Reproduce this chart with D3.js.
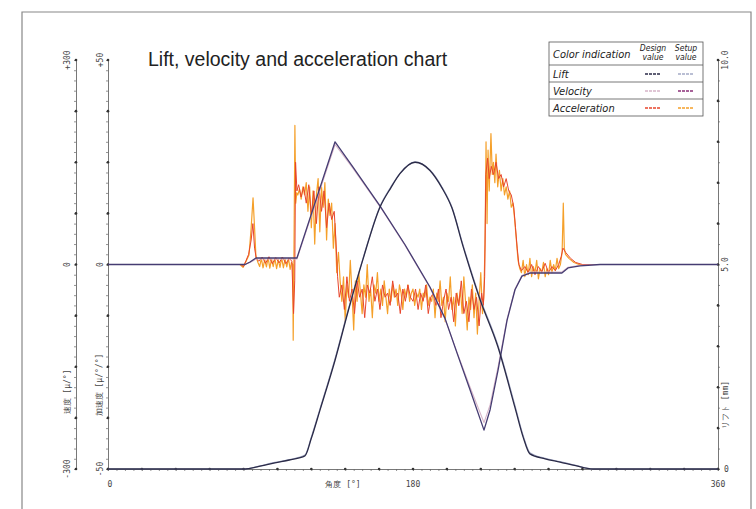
<!DOCTYPE html>
<html>
<head>
<meta charset="utf-8">
<script src="https://cdn.jsdelivr.net/npm/d3@7"></script>
<style>
  body { margin: 0; background: #fff; }
  svg { display: block; }
  .tick-label { font-family: "DejaVu Sans Mono", monospace; font-size: 8px; fill: #444; }
  .legend-text { font-family: "Liberation Sans Narrow", "DejaVu Sans Condensed", "Roboto", sans-serif; font-style: italic; font-stretch: condensed; fill: #222; }
</style>
</head>
<body>
<svg id="chart" width="756" height="509"></svg>
<script>
// ---- data (angle in degrees) ----
const liftAngle = [0, 81, 88, 98.5, 107, 116.2, 120, 125.1, 134, 142, 150.5, 160.5, 167, 172.3, 181.2, 190, 197, 203, 209.5, 219.5, 230, 240.2, 245, 249, 258, 266.8, 276, 286.2, 360];
const liftDesign = [0, 0, 0.05, 0.15, 0.22, 0.32, 0.75, 1.44, 2.66, 3.9, 5.13, 6.4, 6.88, 7.22, 7.5, 7.3, 6.88, 6.38, 5.45, 4.15, 3.0, 1.5, 0.78, 0.37, 0.25, 0.17, 0.08, 0, 0];
const liftSetup = [0, 0, 0.06, 0.16, 0.23, 0.34, 0.78, 1.47, 2.7, 3.93, 5.15, 6.42, 6.9, 7.23, 7.51, 7.31, 6.9, 6.4, 5.48, 4.19, 3.04, 1.55, 0.82, 0.4, 0.26, 0.18, 0.09, 0, 0];

const velAngle = [0, 80.9, 83.8, 87.3, 111.5, 134, 144.6, 160.5, 175.3, 190, 198.9, 206, 213.7, 221.9, 225.5, 230.2, 235.5, 240.2, 244.3, 249, 267.9, 271.5, 278.6, 290.4, 360];
const velDesign = [0, 0, 3, 8, 8, 176, 141, 85, 28, -34, -80, -129, -180, -232, -206, -150, -80, -36, -16, -11, -11, -4, -1, 0, 0];
const velSetup = [0, 0, 3.7, 9.5, 9.5, 180, 143, 86, 29, -33, -79, -130, -184, -243, -213, -155, -82, -37, -17, -12.5, -12.5, -5, -2, 0, 0];

const accelSetup = [
  [0, 0], [77.9, 0], [79.7, -0.7], [81.4, 0.7], [83.2, 2.3], [84.4, 8.4], [85.6, 16.3], [86.5, 9], [87.3, 2], [88.5, 0.5],
  [89.5, -0.5], [90.5, 1.5], [91.5, -0.8], [92.5, 1.2], [93.5, -0.6], [94.5, 1.6], [95.5, -0.9], [96.5, 1.3], [97.5, -0.5], [98.5, 1.5],
  [99.5, -1], [100.5, 1.2], [101.5, -0.7], [102.5, 1.6], [103.5, -0.8], [104.5, 1.4], [105.5, -0.6], [106.5, 1.5], [107.5, -1.2], [108.3, 0.5],
  [109, 0], [109.3, -18.5], [109.7, 0], [110.3, 34], [110.8, 15], [111.4, 17.5],
  [112, 17], [113, 18.5], [114, 16], [115, 19], [116, 17], [117, 20], [118, 13], [119, 19], [120, 9], [121, 18], [122, 5], [123, 17],
  [124, 21], [125, 8], [126, 19], [127, 14], [128, 20], [129, 6], [130, 16], [131, 12], [132, 15], [133, 4], [134, 10], [135, -2], [136, 3],
  [137, -4], [138, -9], [139, -3], [140, -14], [141, -5], [142, -8], [143, 1], [144, -7], [145, -16], [146, -4], [147, -9], [148, -2],
  [149, -7], [150, -12], [151, -5], [152, -8], [153, 0], [154, -9], [155, -6], [156, -13], [157, -5], [158, -7], [159, -2], [160, -9],
  [161, -6], [162, -10], [163, -4], [164, -8], [165, -12], [166, -6], [167, -9], [168, -5], [169, -8], [170, -6], [171, -10], [172, -5],
  [173, -7], [174, -11], [175, -6], [176, -8], [177, -5], [178, -9], [179, -7], [180, -6], [181, -10], [182, -7], [183, -8], [184, -6],
  [185, -11], [186, -7], [187, -8], [188, -5], [189, -10], [190, -8], [191, -9], [192, -6], [193, -13], [194, -7], [195, -9], [196, -4],
  [197, -10], [198, -8], [199, -14], [200, -7], [201, -9], [202, -3], [203, -11], [204, -8], [205, -15], [206, -7], [207, -10], [208, -6],
  [209, -12], [210, -3], [211, -9], [212, -16], [213, -8], [214, -11], [215, -5], [216, -13], [217, -7], [218, -17], [219, -9], [220, -2],
  [221, -12], [221.8, -8], [222.5, 5], [223.1, 30], [223.7, 10], [224.3, 28], [225, 18], [226, 32], [226.8, 22], [227.5, 25], [228.3, 20],
  [229, 27], [230, 19], [231, 23], [232, 18], [233, 21], [234, 17], [235, 19], [236, 16], [237, 18], [238, 14], [239, 15], [240, 11],
  [241, 6], [242, 1], [243, -1], [244, -2], [245, 1], [246, -3], [247, 0], [248, -2.5], [249, 1.5], [250, -3], [251, -0.5], [252, -2],
  [253, 1], [254, -3.5], [255, -1], [256, -2], [257, 0.5], [258, -3], [259, -1], [260, -2.5], [261, 1], [262, -2], [263, 0], [264, -1.5],
  [265, 1.5], [266, -1], [267, 0], [268, 3], [268.7, 15], [269.3, 4], [270, 2.5], [272, 1.5], [275, 0.5], [278, 0], [360, 0]
];

const accelDesign = [
  [0, 0], [78.5, 0], [80, -0.5], [81.5, 1], [83, 2.5], [84.5, 6], [85.5, 10], [86.5, 4], [87.5, 1.5], [89, 0.8], [91, 1.8], [93, 0.3],
  [95, 1.9], [97, 0.2], [99, 1.7], [101, 0.4], [103, 1.8], [105, 0.2], [107, 1.5], [108.5, 0.8], [109.5, -12], [110.2, -4], [110.7, 25],
  [111.5, 18], [112.5, 19.5], [114, 16.5], [115.5, 19], [117, 15], [118.5, 19.5], [120, 12], [121.5, 18], [123, 10], [124.5, 19],
  [126, 13], [127.5, 18], [129, 9], [130.5, 15], [132, 11], [133.5, 13], [134.5, 6], [135.5, -3], [136.5, -8], [138, -5], [139.5, -11],
  [141, -3], [142.5, -9], [144, -6], [145.5, -12], [147, -4], [148.5, -8], [150, -6], [151.5, -13], [153, -5], [154.5, -7], [156, -3],
  [157.5, -9], [159, -6], [160.5, -11], [162, -5], [163.5, -8], [165, -7], [166.5, -10], [168, -4], [169.5, -8], [171, -7], [172.5, -12],
  [174, -6], [175.5, -9], [177, -5], [178.5, -8], [180, -9], [181.5, -6], [183, -11], [184.5, -7], [186, -9], [187.5, -5], [189, -12],
  [190.5, -8], [192, -7], [193.5, -10], [195, -6], [196.5, -13], [198, -9], [199.5, -6], [201, -11], [202.5, -8], [204, -14], [205.5, -7],
  [207, -10], [208.5, -4], [210, -12], [211.5, -9], [213, -14], [214.5, -6], [216, -11], [217.5, -8], [219, -15], [220.5, -7], [221.5, -10],
  [222.3, -3], [223, 22], [224, 26], [225, 21], [226.2, 24], [227.5, 22], [229, 25], [230.5, 21], [232, 22], [233.5, 19], [235, 21],
  [236.5, 18], [238, 17], [239.5, 14], [240.5, 9], [241.5, 4], [242.5, 0], [244, -1.5], [246, -0.5], [248, -2], [250, 0], [252, -2.5],
  [254, -0.5], [256, -1.8], [258, 0.3], [260, -2], [262, -0.5], [264, -1.5], [266, 0], [267.5, 2], [268.5, 4], [270, 3], [273, 1.5],
  [276, 0.5], [280, 0], [360, 0]
];

const velTicks = ["+300", "0", "-300"];
const accTicks = ["+50", "0", "-50"];
const liftTicks = ["10.0", "5.0"];
const angleTicks = [0, 180, 360];

const legendRows = ["Lift", "Velocity", "Acceleration"];
const designColors = ["#2b2b48", "#d6b4c8", "#e8452c"];
const setupColors = ["#a4aac6", "#8a2f78", "#f5a02a"];
const velLineColor = "#453c72";

// ---- scales ----
const svg = d3.select("#chart");
const x = d3.scaleLinear().domain([0, 360]).range([108, 718]);
const yLift = d3.scaleLinear().domain([0, 10]).range([469, 60]);
const yVel = d3.scaleLinear().domain([-300, 300]).range([469, 60]);
const yAcc = d3.scaleLinear().domain([-50, 50]).range([469, 60]);

// outer frame
svg.append("path")
  .attr("d", "M22,515V12H751V515")
  .attr("fill", "none")
  .attr("stroke", "#888")
  .attr("stroke-width", 1.2);

// ---- axes ----
function drawAxis(axis, tx, ty) {
  const g = svg.append("g").attr("transform", `translate(${tx},${ty})`).call(axis);
  g.select(".domain").attr("stroke", "#555").attr("stroke-width", 0.8);
  g.selectAll(".tick line").attr("stroke", "#666").attr("stroke-width", 0.7);
  return g;
}

drawAxis(d3.axisLeft(yVel).tickValues(d3.range(-300, 301, 15)).tickSize(2).tickSizeOuter(0).tickFormat(""), 76, 0);
drawAxis(d3.axisLeft(yAcc).tickValues(d3.range(-50, 51, 2.5)).tickSize(2).tickSizeOuter(0).tickFormat(""), 108, 0);
drawAxis(d3.axisRight(yLift).tickValues(d3.range(0, 10.01, 0.5)).tickSize(2).tickSizeOuter(0).tickFormat(""), 718, 0);
drawAxis(d3.axisBottom(x).tickValues(d3.range(0, 361, 5)).tickSize(2).tickSizeOuter(0).tickFormat(""), 0, 469);

// major dots
function dots(data, cx, cy) {
  svg.append("g").selectAll("circle").data(data).join("circle")
    .attr("cx", cx).attr("cy", cy).attr("r", 1.3).attr("fill", "#333");
}
dots(d3.range(-300, 301, 75), 76, (d) => yVel(d));
dots(d3.range(-50, 51, 12.5), 108, (d) => yAcc(d));
dots(d3.range(0, 10.01, 1), 718, (d) => yLift(d));
dots(d3.range(0, 361, 20), (d) => x(d), 469);

// rotated labels
function vText(px, py, txt, cls, size) {
  svg.append("text")
    .attr("class", cls)
    .attr("transform", `translate(${px},${py}) rotate(-90)`)
    .attr("text-anchor", "middle")
    .attr("font-size", size)
    .text(txt);
}
velTicks.forEach((t) => vText(70, yVel(+t), t, "tick-label", 8));
accTicks.forEach((t) => vText(103, yAcc(+t), t, "tick-label", 8));
liftTicks.forEach((t) => vText(728, yLift(+t), t, "tick-label", 8));

svg.selectAll(".angle-label").data(angleTicks).join("text")
  .attr("class", "tick-label")
  .attr("x", (d) => x(d) + (d == 0 ? 2 : 0))
  .attr("y", 487)
  .attr("text-anchor", "middle")
  .text((d) => d);

svg.append("text").attr("class", "tick-label")
  .attr("x", 724).attr("y", 472).text("0");

vText(70, 392, "速度 [μ/°]", "tick-label", 8);
vText(102, 385, "加速度 [μ/°/°]", "tick-label", 8);
vText(728, 405, "リフト [mm]", "tick-label", 8);
svg.append("text").attr("class", "tick-label")
  .attr("x", 343).attr("y", 487).attr("text-anchor", "middle")
  .attr("font-size", 9).text("角度 [°]");

// ---- series ----
const pathOf = (ys, curve) => d3.line().x((d) => x(d[0])).y((d) => ys(d[1])).curve(curve);

function series(data, ys, curve, color, width) {
  svg.append("path")
    .datum(data)
    .attr("d", pathOf(ys, curve))
    .attr("fill", "none")
    .attr("stroke", color)
    .attr("stroke-width", width)
    .attr("stroke-linejoin", "round");
}

series(accelSetup, yAcc, d3.curveLinear, setupColors[2], 1.2);
series(accelDesign, yAcc, d3.curveLinear, designColors[2], 1);
series(d3.zip(velAngle, velDesign), yVel, d3.curveLinear, designColors[1], 1.1);
series(d3.zip(liftAngle, liftSetup), yLift, d3.curveMonotoneX, setupColors[0], 1.2);
series(d3.zip(velAngle, velSetup), yVel, d3.curveLinear, velLineColor, 1.3);
series(d3.zip(liftAngle, liftDesign), yLift, d3.curveMonotoneX, designColors[0], 1.3);

// ---- title ----
svg.append("text")
  .attr("x", 148).attr("y", 66)
  .attr("font-family", "'Liberation Sans', Arial, sans-serif")
  .attr("font-size", 19.5)
  .attr("fill", "#222")
  .text("Lift, velocity and acceleration chart");

// ---- legend ----
const lg = svg.append("g").attr("transform", "translate(549,42)");
lg.append("rect").attr("width", 154).attr("height", 74)
  .attr("fill", "#fff").attr("stroke", "#555").attr("stroke-width", 0.8);
lg.append("text").attr("class", "legend-text").attr("x", 4).attr("y", 16).attr("font-size", 11).text("Color indication");
lg.append("text").attr("class", "legend-text").attr("x", 104).attr("y", 9).attr("font-size", 8.5).attr("text-anchor", "middle").text("Design");
lg.append("text").attr("class", "legend-text").attr("x", 104).attr("y", 18).attr("font-size", 8.5).attr("text-anchor", "middle").text("value");
lg.append("text").attr("class", "legend-text").attr("x", 137).attr("y", 9).attr("font-size", 8.5).attr("text-anchor", "middle").text("Setup");
lg.append("text").attr("class", "legend-text").attr("x", 137).attr("y", 18).attr("font-size", 8.5).attr("text-anchor", "middle").text("value");

const rowY = d3.scaleBand().domain(legendRows).range([23, 74]);
const rows = lg.selectAll(".row").data(legendRows).join("g")
  .attr("transform", (d) => `translate(0,${rowY(d)})`);
rows.append("line").attr("x1", 0).attr("x2", 154).attr("y1", 0).attr("y2", 0)
  .attr("stroke", "#555").attr("stroke-width", 0.8);
rows.append("text").attr("class", "legend-text").attr("x", 4).attr("y", 13).attr("font-size", 11).text((d) => d);
rows.append("line").attr("x1", 96).attr("x2", 112).attr("y1", 9).attr("y2", 9)
  .attr("stroke", (d, i) => designColors[i]).attr("stroke-width", 1.6).attr("stroke-dasharray", "3,1");
rows.append("line").attr("x1", 129).attr("x2", 145).attr("y1", 9).attr("y2", 9)
  .attr("stroke", (d, i) => setupColors[i]).attr("stroke-width", 1.6).attr("stroke-dasharray", "3,1");
</script>
</body>
</html>
